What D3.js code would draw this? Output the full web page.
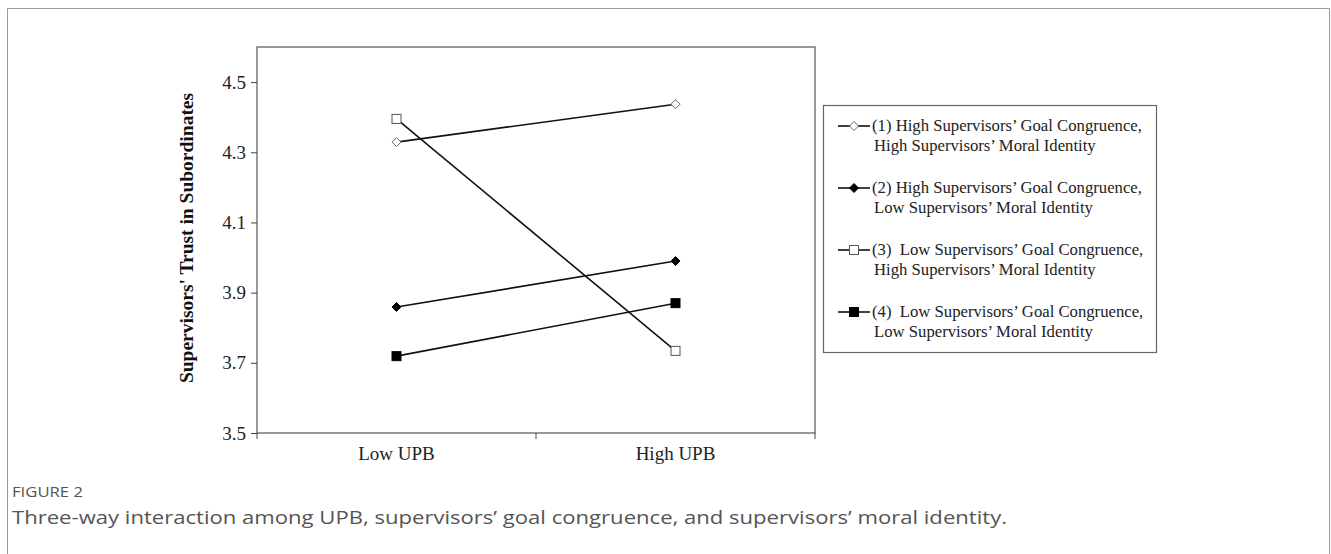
<!DOCTYPE html>
<html><head><meta charset="utf-8">
<script src="https://cdn.jsdelivr.net/npm/d3@7"></script>
<style>body{margin:0;background:#fff}svg{display:block}text{white-space:pre}</style>
</head><body>
<svg id="c" width="1331" height="554"></svg>
<script>
const categories = ["Low UPB", "High UPB"];
const seriesNames = [
  ["(1) High Supervisors’ Goal Congruence,", "High Supervisors’ Moral Identity"],
  ["(2) High Supervisors’ Goal Congruence,", "Low Supervisors’ Moral Identity"],
  ["(3)  Low Supervisors’ Goal Congruence,", "High Supervisors’ Moral Identity"],
  ["(4)  Low Supervisors’ Goal Congruence,", "Low Supervisors’ Moral Identity"]
];
const series1 = [4.329, 4.437];
const series2 = [3.859, 3.990];
const series3 = [4.395, 3.734];
const series4 = [3.719, 3.870];
const markers = ["diamondOpen", "diamondFilled", "squareOpen", "squareFilled"];
const yTicks = [3.5, 3.7, 3.9, 4.1, 4.3, 4.5];
const yLabel = "Supervisors' Trust in Subordinates";
const figLabel = "FIGURE 2";
const caption = "Three-way interaction among UPB, supervisors’ goal congruence, and supervisors’ moral identity.";

const allSeries = [series1, series2, series3, series4];
const svg = d3.select("#c");

svg.append("path").attr("d", "M7.5,554 V8.5 H1329.5 V554")
  .attr("fill", "none").attr("stroke", "#9a9a9a").attr("stroke-width", 1);

const L = 257, R = 815, T = 47, B = 433;
const x = d3.scaleBand().domain(categories).range([L, R]);
const y = d3.scaleLinear().domain([3.5, 4.6]).range([B, T]);

svg.append("rect").attr("x", L).attr("y", T).attr("width", R - L).attr("height", B - T)
  .attr("fill", "none").attr("stroke", "#555").attr("stroke-width", 1.2);

const serif = "'Liberation Serif','Times New Roman',serif";
const yAxis = svg.append("g").attr("transform", `translate(${L},0)`)
  .call(d3.axisLeft(y).tickValues(yTicks).tickFormat(d3.format(".1f")).tickSize(6).tickPadding(5));
yAxis.select(".domain").remove();
yAxis.selectAll("line").attr("stroke", "#444");
yAxis.selectAll("text").attr("font-family", serif).attr("font-size", 19).attr("fill", "#222");

const xAxis = svg.append("g").attr("transform", `translate(0,${B})`)
  .call(d3.axisBottom(x).tickSize(0).tickPadding(14));
xAxis.select(".domain").remove();
xAxis.selectAll("text").attr("font-family", serif).attr("font-size", 19).attr("fill", "#222");
svg.append("g").selectAll("line").data([L, (L + R) / 2, R]).join("line")
  .attr("x1", d => d).attr("x2", d => d).attr("y1", B).attr("y2", B + 6)
  .attr("stroke", "#444");

svg.append("text").attr("transform", `translate(193,238) rotate(-90)`)
  .attr("text-anchor", "middle").attr("font-family", serif).attr("font-weight", "bold")
  .attr("font-size", 19.5).attr("fill", "#111").text(yLabel);

function drawMarker(g, type, cx, cy) {
  const open = type.endsWith("Open");
  if (type.startsWith("diamond")) {
    const s = 4.5;
    g.append("path").attr("d", `M${cx},${cy - s}L${cx + s},${cy}L${cx},${cy + s}L${cx - s},${cy}Z`)
      .attr("fill", open ? "#fff" : "#000")
      .attr("stroke", open ? "#666" : "#000").attr("stroke-width", 1);
  } else {
    const s = 4.5;
    g.append("rect").attr("x", cx - s).attr("y", cy - s).attr("width", 2 * s).attr("height", 2 * s)
      .attr("fill", open ? "#fff" : "#000")
      .attr("stroke", open ? "#555" : "#000").attr("stroke-width", 1);
  }
}

const line = d3.line().x((d, i) => x(categories[i]) + x.bandwidth() / 2).y(d => y(d));
const plotG = svg.append("g");
allSeries.forEach(s => {
  plotG.append("path").datum(s).attr("d", line).attr("fill", "none")
    .attr("stroke", "#111").attr("stroke-width", 1.6);
});
allSeries.forEach((s, k) => {
  s.forEach((v, i) => drawMarker(plotG, markers[k], x(categories[i]) + x.bandwidth() / 2, y(v)));
});

svg.append("rect").attr("x", 823.5).attr("y", 105.5).attr("width", 333).attr("height", 247)
  .attr("fill", "#fff").attr("stroke", "#666").attr("stroke-width", 1.2);
const rowY = [126, 188, 250, 312];
const lg = svg.append("g");
seriesNames.forEach((nm, k) => {
  const yy = rowY[k];
  lg.append("line").attr("x1", 838).attr("x2", 870).attr("y1", yy).attr("y2", yy)
    .attr("stroke", "#111").attr("stroke-width", 1.6);
  drawMarker(lg, markers[k], 854, yy);
  lg.append("text").attr("x", 872).attr("y", yy + 5).attr("font-family", serif)
    .attr("font-size", 16.7).attr("fill", "#222").text(nm[0]);
  lg.append("text").attr("x", 874).attr("y", yy + 25).attr("font-family", serif)
    .attr("font-size", 16.7).attr("fill", "#222").text(nm[1]);
});

svg.append("text").attr("x", 12).attr("y", 497).attr("font-family", "'Open Sans',sans-serif")
  .attr("font-size", 14.5).attr("fill", "#555")
  .attr("textLength", 71).attr("lengthAdjust", "spacingAndGlyphs").text(figLabel);
svg.append("text").attr("x", 12).attr("y", 524).attr("font-family", "'Open Sans',sans-serif")
  .attr("font-size", 18).attr("fill", "#555")
  .attr("textLength", 995).attr("lengthAdjust", "spacingAndGlyphs").text(caption);
</script>
</body></html>
